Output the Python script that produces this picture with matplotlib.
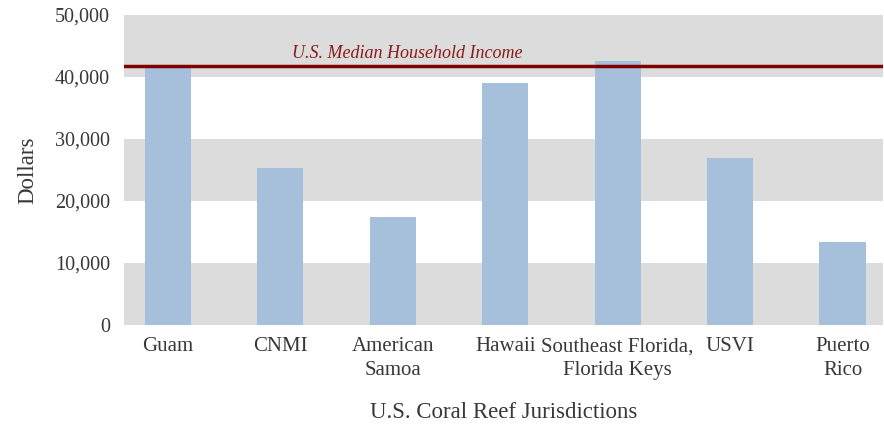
import matplotlib.pyplot as plt
import numpy as np

# data
jurisdictions = ['Guam', 'CNMI', 'American\nSamoa', 'Hawaii',
                 'Southeast Florida,\nFlorida Keys', 'USVI', 'Puerto\nRico']
income = [41600, 25300, 17400, 39000, 42600, 26900, 13400]
us_median = 41700
yticks = [0, 10000, 20000, 30000, 40000, 50000]

plt.rcParams['font.family'] = ['Liberation Serif', 'DejaVu Serif']
text_color = '#383838'

fig = plt.figure(figsize=(8.84, 4.24), dpi=100)
ax = fig.add_axes([0.1403, 0.2335, 0.8586, 0.7311])

# alternating grey bands
for i in range(0, len(yticks) - 1, 2):
    ax.axhspan(yticks[i], yticks[i + 1], color='#DCDCDC', lw=0, zorder=0)

x = np.arange(len(jurisdictions))
ax.bar(x, income, width=0.41, color='#A6BFDA', zorder=2)

ax.axhline(us_median, color='#800000', lw=2.5, zorder=3)
ax.text(1.1, us_median + 1300, 'U.S. Median Household Income',
        color='#8B1A1A', style='italic', fontsize=13, zorder=4)

ax.set_xlim(-0.39, 6.36)
ax.set_ylim(0, 50000)
ax.set_yticks(yticks)
ax.set_yticklabels(['{:,}'.format(v) for v in yticks])
ax.set_xticks(x)
ax.set_xticklabels(jurisdictions, linespacing=1.3)
ax.tick_params(length=0, colors=text_color)
ax.tick_params(axis='y', pad=10, labelsize=14.5)
ax.tick_params(axis='x', pad=9, labelsize=15)
for s in ax.spines.values():
    s.set_visible(False)

ax.set_ylabel('Dollars', fontsize=16.5, color=text_color, labelpad=12)
ax.set_xlabel('U.S. Coral Reef Jurisdictions', fontsize=16.5,
              color=text_color, labelpad=16)

fig.savefig('out.png', dpi=100)
